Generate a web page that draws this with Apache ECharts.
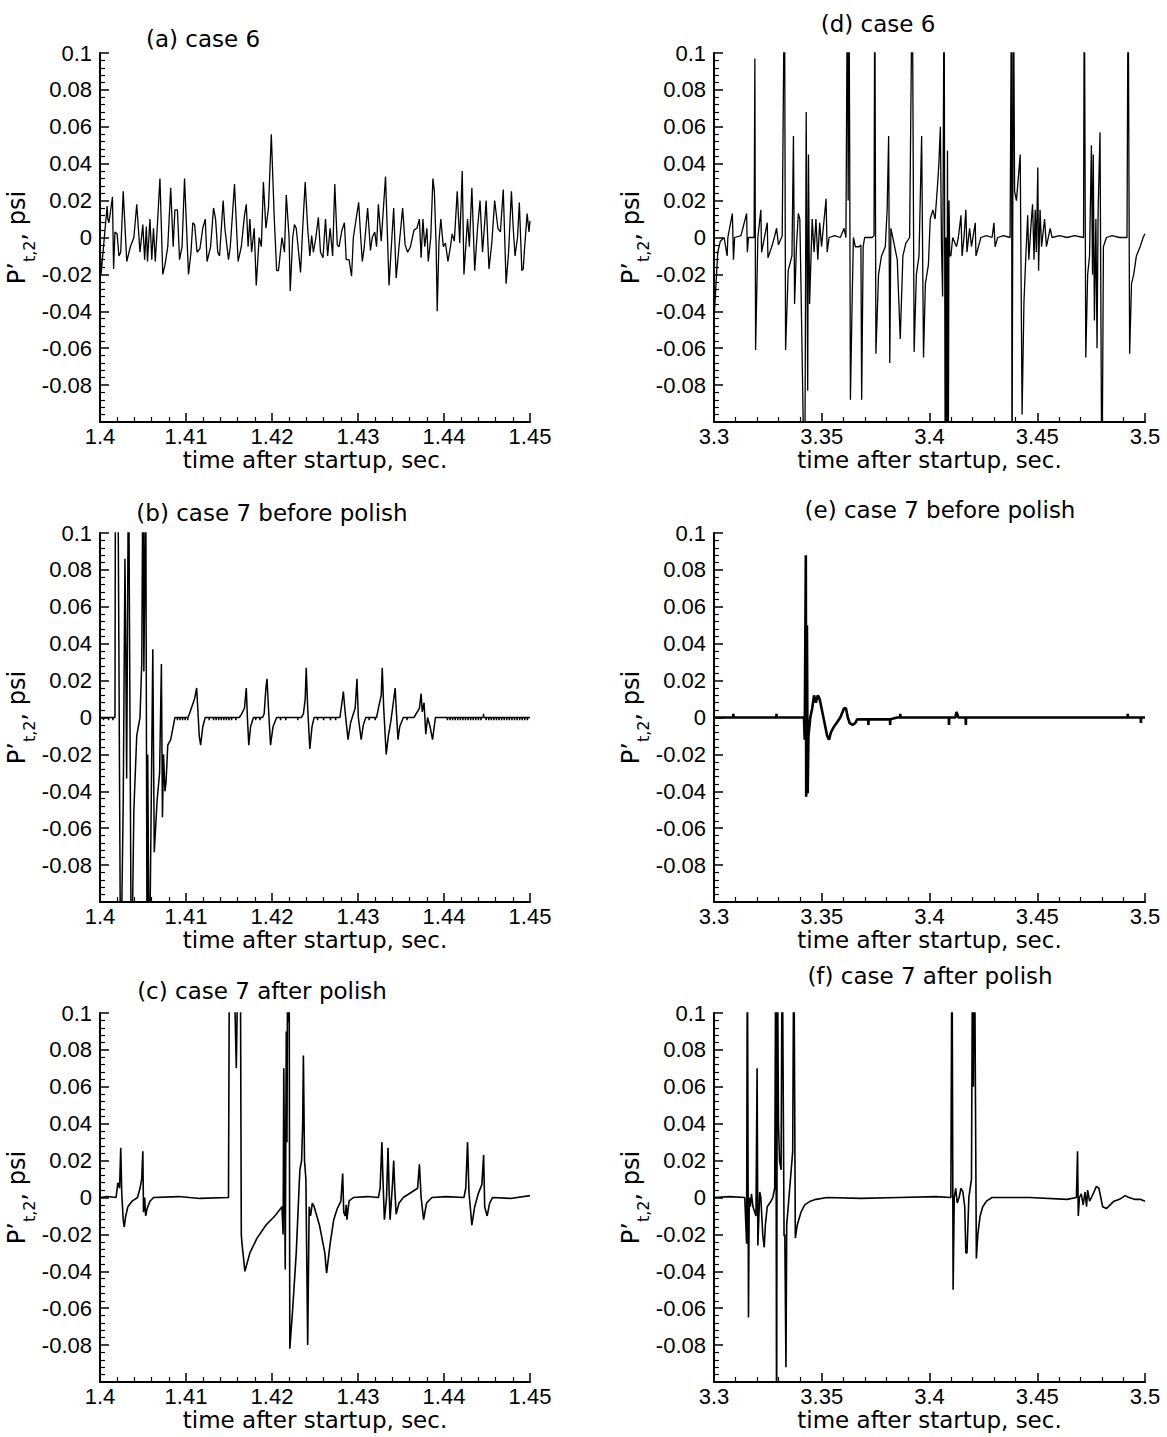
<!DOCTYPE html>
<html>
<head>
<meta charset="utf-8">
<script src="https://cdn.jsdelivr.net/npm/echarts@6/dist/echarts.min.js"></script>
<style>
html,body{margin:0;padding:0;background:#fff;}
#chart{width:1167px;height:1437px;}
</style>
</head>
<body>
<div id="chart"></div>
<script>
// ---- data: [time (s), P't,2 (psi)] ----
const panelTitles = ['(a) case 6', '(d) case 6', '(b) case 7 before polish', '(e) case 7 before polish', '(c) case 7 after polish', '(f) case 7 after polish'];
const xTitle = 'time after startup, sec.';
const leftRange = [1.4, 1.45, 0.01];
const rightRange = [3.3, 3.5, 0.05];
const yRange = [-0.1, 0.1, 0.02];

const caseA = [[1.40000,0.000],[1.40012,-0.020],[1.40083,0.017],[1.40091,0.010],[1.40104,0.008],[1.40145,0.022],[1.40158,-0.017],[1.40174,0.003],[1.40199,0.002],[1.40220,-0.010],[1.40241,-0.008],[1.40270,0.025],[1.40311,-0.013],[1.40353,-0.005],[1.40394,0.000],[1.40427,0.018],[1.40465,-0.008],[1.40498,0.007],[1.40519,-0.012],[1.40539,0.006],[1.40552,-0.013],[1.40581,0.010],[1.40602,-0.012],[1.40622,0.005],[1.40643,-0.013],[1.40664,0.004],[1.40697,0.032],[1.40730,-0.020],[1.40755,-0.015],[1.40788,-0.005],[1.40822,0.027],[1.40851,-0.005],[1.40871,0.015],[1.40900,0.015],[1.40925,-0.012],[1.40954,-0.005],[1.40983,0.032],[1.41029,-0.020],[1.41058,-0.008],[1.41079,0.008],[1.41100,0.007],[1.41129,-0.008],[1.41162,-0.006],[1.41195,0.005],[1.41224,0.010],[1.41245,-0.013],[1.41286,-0.005],[1.41320,0.016],[1.41344,0.010],[1.41369,-0.008],[1.41390,-0.010],[1.41432,0.020],[1.41452,0.005],[1.41494,-0.012],[1.41515,-0.005],[1.41564,0.029],[1.41606,-0.013],[1.41643,-0.005],[1.41680,0.012],[1.41701,0.018],[1.41722,-0.005],[1.41743,0.010],[1.41763,-0.008],[1.41793,0.005],[1.41817,-0.026],[1.41851,0.000],[1.41876,-0.005],[1.41900,0.030],[1.41929,0.005],[1.41959,0.016],[1.41992,0.056],[1.42025,0.012],[1.42054,-0.018],[1.42075,-0.018],[1.42116,0.000],[1.42145,-0.008],[1.42166,0.023],[1.42199,0.000],[1.42212,-0.029],[1.42241,0.000],[1.42261,0.007],[1.42282,0.005],[1.42303,-0.005],[1.42332,-0.019],[1.42357,0.005],[1.42386,0.030],[1.42415,0.005],[1.42440,-0.010],[1.42461,0.001],[1.42481,-0.008],[1.42510,0.000],[1.42539,0.011],[1.42564,-0.008],[1.42593,-0.011],[1.42622,0.010],[1.42647,-0.010],[1.42676,0.005],[1.42705,-0.010],[1.42730,0.029],[1.42759,-0.004],[1.42780,-0.005],[1.42813,0.004],[1.42842,0.008],[1.42863,-0.012],[1.42896,-0.012],[1.42925,-0.021],[1.42946,0.000],[1.42975,0.009],[1.43008,0.019],[1.43029,0.002],[1.43050,-0.013],[1.43071,-0.006],[1.43112,0.016],[1.43145,-0.007],[1.43166,0.000],[1.43195,0.003],[1.43216,-0.005],[1.43237,0.018],[1.43270,-0.002],[1.43320,0.033],[1.43361,-0.026],[1.43394,0.000],[1.43415,0.016],[1.43444,-0.022],[1.43477,-0.005],[1.43519,0.016],[1.43548,-0.004],[1.43577,-0.008],[1.43610,-0.005],[1.43651,0.004],[1.43685,0.005],[1.43714,0.010],[1.43734,-0.011],[1.43755,0.010],[1.43776,-0.005],[1.43801,0.005],[1.43817,-0.013],[1.43846,0.000],[1.43871,0.032],[1.43888,0.025],[1.43909,-0.005],[1.43921,-0.040],[1.43942,-0.002],[1.43963,0.010],[1.43992,-0.005],[1.44017,-0.003],[1.44046,-0.013],[1.44075,-0.005],[1.44095,0.002],[1.44120,-0.002],[1.44154,0.025],[1.44183,-0.003],[1.44212,0.036],[1.44232,-0.020],[1.44253,-0.005],[1.44274,0.010],[1.44295,-0.005],[1.44324,0.027],[1.44357,-0.018],[1.44390,0.005],[1.44419,0.020],[1.44448,-0.008],[1.44473,0.008],[1.44490,0.020],[1.44523,-0.017],[1.44556,-0.003],[1.44589,0.020],[1.44627,0.005],[1.44656,0.003],[1.44689,0.026],[1.44722,-0.025],[1.44751,-0.008],[1.44784,0.025],[1.44805,0.005],[1.44826,-0.010],[1.44855,0.000],[1.44876,0.019],[1.44905,-0.018],[1.44921,-0.017],[1.44938,-0.005],[1.44967,0.013],[1.44988,0.003],[1.45000,0.009]];

const caseD = [[3.30000,-0.045],[3.30070,-0.030],[3.30174,-0.008],[3.30296,-0.002],[3.30470,0.000],[3.30609,-0.010],[3.30643,0.000],[3.30852,0.013],[3.30904,-0.012],[3.30957,0.000],[3.31252,0.001],[3.31513,0.013],[3.31548,-0.008],[3.31600,0.000],[3.31861,0.000],[3.31896,0.097],[3.31930,-0.061],[3.32035,0.000],[3.32174,0.015],[3.32209,-0.008],[3.32470,0.008],[3.32504,-0.011],[3.32678,-0.005],[3.32800,0.000],[3.32904,0.005],[3.32991,-0.004],[3.33165,0.001],[3.33270,0.150],[3.33322,-0.061],[3.33443,-0.018],[3.33617,-0.010],[3.33687,0.055],[3.33739,-0.036],[3.33826,-0.005],[3.33913,0.013],[3.33983,0.010],[3.34035,-0.025],[3.34209,-0.150],[3.34278,0.068],[3.34348,-0.083],[3.34383,0.045],[3.34435,-0.036],[3.34557,0.010],[3.34643,-0.008],[3.34730,0.010],[3.34817,-0.012],[3.34904,0.008],[3.34991,-0.005],[3.35200,0.021],[3.35252,-0.008],[3.35339,0.000],[3.35600,0.001],[3.35861,0.000],[3.36035,0.005],[3.36122,0.000],[3.36191,0.150],[3.36226,0.020],[3.36261,0.150],[3.36296,0.048],[3.36330,-0.088],[3.36417,-0.030],[3.36470,0.000],[3.36557,-0.005],[3.36730,-0.005],[3.36817,-0.004],[3.36852,-0.088],[3.36922,-0.005],[3.36991,0.000],[3.37165,0.000],[3.37339,0.000],[3.37426,0.001],[3.37461,0.150],[3.37513,-0.063],[3.37635,-0.020],[3.37774,-0.010],[3.37948,-0.005],[3.38035,0.015],[3.38104,0.055],[3.38157,-0.068],[3.38209,0.005],[3.38383,-0.005],[3.38504,-0.012],[3.38643,-0.055],[3.38765,-0.010],[3.38904,-0.003],[3.39078,0.000],[3.39200,0.150],[3.39287,-0.062],[3.39391,-0.020],[3.39513,-0.010],[3.39635,0.055],[3.39722,-0.065],[3.39809,-0.025],[3.39948,-0.015],[3.40035,0.010],[3.40157,0.015],[3.40261,0.010],[3.40383,0.030],[3.40435,0.040],[3.40504,0.060],[3.40557,-0.005],[3.40609,-0.032],[3.40678,0.150],[3.40730,-0.150],[3.40765,0.000],[3.40800,-0.150],[3.40835,0.047],[3.40870,-0.150],[3.40904,0.020],[3.40939,-0.010],[3.40991,-0.010],[3.41078,0.000],[3.41252,-0.005],[3.41339,0.000],[3.41461,0.012],[3.41513,-0.010],[3.41600,0.000],[3.41687,0.015],[3.41739,-0.008],[3.41861,0.005],[3.41948,-0.005],[3.42122,0.008],[3.42157,-0.010],[3.42383,0.000],[3.42643,0.001],[3.42904,0.000],[3.42991,0.008],[3.43043,-0.005],[3.43165,0.000],[3.43426,0.001],[3.43739,0.000],[3.43809,0.150],[3.43826,-0.150],[3.43896,0.150],[3.43948,0.025],[3.44035,0.020],[3.44209,0.045],[3.44296,-0.096],[3.44383,-0.035],[3.44470,-0.010],[3.44557,0.012],[3.44609,-0.012],[3.44730,0.010],[3.44783,0.018],[3.44852,-0.012],[3.44904,0.015],[3.44957,-0.008],[3.45026,0.038],[3.45061,-0.018],[3.45130,0.015],[3.45200,-0.005],[3.45339,0.010],[3.45426,-0.005],[3.45600,0.005],[3.45687,0.000],[3.46035,0.001],[3.46383,0.000],[3.46730,0.001],[3.47148,0.000],[3.47183,0.150],[3.47252,-0.065],[3.47339,-0.020],[3.47426,-0.010],[3.47513,0.050],[3.47565,-0.020],[3.47600,0.045],[3.47652,-0.045],[3.47722,0.010],[3.47774,-0.060],[3.47826,0.015],[3.47913,0.057],[3.48000,-0.150],[3.48070,-0.005],[3.48209,0.000],[3.48470,0.001],[3.48817,0.000],[3.49165,0.000],[3.49217,0.150],[3.49287,-0.063],[3.49374,-0.025],[3.49478,-0.020],[3.49600,-0.010],[3.49774,-0.005],[3.49913,0.000],[3.50000,0.002]];

const caseB = [[1.40000,0.000],[1.40038,0],[1.40040,-0.0015],[1.40042,0],[1.40098,0],[1.40100,-0.0015],[1.40102,0],[1.40148,0],[1.40150,-0.0015],[1.40152,0],[1.40174,0.000],[1.40180,0.150],[1.40207,0.150],[1.40240,-0.150],[1.40270,-0.046],[1.40290,0.086],[1.40300,0.035],[1.40310,-0.033],[1.40332,0.150],[1.40365,-0.150],[1.40394,-0.050],[1.40427,-0.010],[1.40465,0.000],[1.40486,0.030],[1.40500,0.150],[1.40510,0.025],[1.40519,0.068],[1.40531,0.150],[1.40548,-0.150],[1.40555,-0.020],[1.40573,-0.150],[1.40614,0.037],[1.40631,-0.073],[1.40664,-0.045],[1.40693,-0.030],[1.40714,0.029],[1.40726,-0.054],[1.40739,-0.020],[1.40755,-0.040],[1.40768,-0.035],[1.40788,-0.015],[1.40822,-0.012],[1.40851,-0.005],[1.40871,0.000],[1.40898,0],[1.40900,-0.0015],[1.40902,0],[1.40928,0],[1.40930,-0.0015],[1.40932,0],[1.40958,0],[1.40960,-0.0015],[1.40962,0],[1.40988,0],[1.40990,-0.0015],[1.40992,0],[1.41018,0],[1.41020,-0.0015],[1.41022,0],[1.41040,0.002],[1.41099,0.010],[1.41124,0.016],[1.41137,0.005],[1.41154,-0.010],[1.41170,-0.015],[1.41195,-0.005],[1.41224,0.000],[1.41268,0],[1.41270,-0.0015],[1.41272,0],[1.41318,0],[1.41320,-0.0015],[1.41322,0],[1.41348,0],[1.41350,-0.0015],[1.41352,0],[1.41378,0],[1.41380,-0.0015],[1.41382,0],[1.41408,0],[1.41410,-0.0015],[1.41412,0],[1.41438,0],[1.41440,-0.0015],[1.41442,0],[1.41468,0],[1.41470,-0.0015],[1.41472,0],[1.41498,0],[1.41500,-0.0015],[1.41502,0],[1.41528,0],[1.41530,-0.0015],[1.41532,0],[1.41578,0],[1.41580,-0.0015],[1.41582,0],[1.41620,0],[1.41647,0.002],[1.41680,0.005],[1.41701,0.016],[1.41714,0.000],[1.41730,-0.015],[1.41751,-0.005],[1.41784,0.000],[1.41808,0],[1.41810,-0.0015],[1.41812,0],[1.41858,0],[1.41860,-0.0015],[1.41862,0],[1.41890,0],[1.41909,0.002],[1.41929,0.016],[1.41942,0.021],[1.41959,0.005],[1.41983,-0.015],[1.42012,-0.005],[1.42054,0.000],[1.42098,0],[1.42100,-0.0015],[1.42102,0],[1.42158,0],[1.42160,-0.0015],[1.42162,0],[1.42298,0],[1.42300,-0.0015],[1.42302,0],[1.42340,0],[1.42365,0.002],[1.42386,0.010],[1.42398,0.027],[1.42415,0.005],[1.42440,-0.017],[1.42465,-0.005],[1.42490,0.000],[1.42528,0],[1.42530,-0.0015],[1.42532,0],[1.42598,0],[1.42600,-0.0015],[1.42602,0],[1.42678,0],[1.42680,-0.0015],[1.42682,0],[1.42738,0],[1.42740,-0.0015],[1.42742,0],[1.42790,0],[1.42813,0.008],[1.42830,0.014],[1.42846,0.005],[1.42884,-0.012],[1.42913,-0.003],[1.42946,0.002],[1.42967,0.005],[1.42988,0.021],[1.43004,0.000],[1.43037,-0.012],[1.43062,-0.004],[1.43091,0.000],[1.43128,0],[1.43130,-0.0015],[1.43132,0],[1.43198,0],[1.43200,-0.0015],[1.43202,0],[1.43216,0.000],[1.43237,0.005],[1.43270,0.012],[1.43282,0.027],[1.43299,0.005],[1.43328,-0.020],[1.43353,-0.010],[1.43382,-0.002],[1.43402,0.005],[1.43432,0.016],[1.43444,0.005],[1.43465,-0.012],[1.43485,-0.005],[1.43527,0.000],[1.43568,0],[1.43570,-0.0015],[1.43572,0],[1.43650,0.000],[1.43714,0.005],[1.43734,0.013],[1.43747,0.003],[1.43768,0.008],[1.43788,-0.009],[1.43809,0.000],[1.43838,-0.005],[1.43867,-0.012],[1.43900,0.000],[1.44038,0],[1.44040,-0.0015],[1.44042,0],[1.44068,0],[1.44070,-0.0015],[1.44072,0],[1.44098,0],[1.44100,-0.0015],[1.44102,0],[1.44128,0],[1.44130,-0.0015],[1.44132,0],[1.44158,0],[1.44160,-0.0015],[1.44162,0],[1.44188,0],[1.44190,-0.0015],[1.44192,0],[1.44218,0],[1.44220,-0.0015],[1.44222,0],[1.44248,0],[1.44250,-0.0015],[1.44252,0],[1.44278,0],[1.44280,-0.0015],[1.44282,0],[1.44308,0],[1.44310,-0.0015],[1.44312,0],[1.44338,0],[1.44340,-0.0015],[1.44342,0],[1.44368,0],[1.44370,-0.0015],[1.44372,0],[1.44398,0],[1.44400,-0.0015],[1.44402,0],[1.44428,0],[1.44430,-0.0015],[1.44432,0],[1.44458,0],[1.44460,0.002],[1.44462,0],[1.44488,0],[1.44490,-0.0015],[1.44492,0],[1.44518,0],[1.44520,-0.0015],[1.44522,0],[1.44548,0],[1.44550,-0.0015],[1.44552,0],[1.44578,0],[1.44580,-0.0015],[1.44582,0],[1.44608,0],[1.44610,-0.0015],[1.44612,0],[1.44638,0],[1.44640,-0.0015],[1.44642,0],[1.44668,0],[1.44670,-0.0015],[1.44672,0],[1.44698,0],[1.44700,-0.0015],[1.44702,0],[1.44728,0],[1.44730,-0.0015],[1.44732,0],[1.44758,0],[1.44760,-0.0015],[1.44762,0],[1.44788,0],[1.44790,-0.0015],[1.44792,0],[1.44818,0],[1.44820,-0.0015],[1.44822,0],[1.44848,0],[1.44850,-0.0015],[1.44852,0],[1.44878,0],[1.44880,-0.0015],[1.44882,0],[1.44908,0],[1.44910,-0.0015],[1.44912,0],[1.44938,0],[1.44940,-0.0015],[1.44942,0],[1.44968,0],[1.44970,-0.0015],[1.44972,0],[1.45000,0.000]];

const caseE = [[3.30000,0.000],[3.30890,0],[3.30900,0.002],[3.30910,0],[3.32890,0],[3.32900,0.002],[3.32910,0],[3.34174,0.000],[3.34209,-0.012],[3.34226,0.020],[3.34261,0.088],[3.34278,-0.043],[3.34313,0.050],[3.34348,-0.041],[3.34383,-0.010],[3.34470,0.000],[3.34557,0.005],[3.34643,0.012],[3.34730,0.008],[3.34817,0.012],[3.34904,0.010],[3.34991,0.005],[3.35078,0.000],[3.35165,-0.005],[3.35252,-0.010],[3.35339,-0.012],[3.35426,-0.008],[3.35565,-0.005],[3.35687,-0.003],[3.35861,0.000],[3.36035,0.005],[3.36122,0.005],[3.36209,0.000],[3.36296,-0.003],[3.36435,-0.004],[3.36557,-0.003],[3.36643,-0.001],[3.37155,-0.001],[3.37165,-0.004],[3.37175,-0.001],[3.37513,-0.001],[3.38164,-0.001],[3.38174,-0.004],[3.38184,-0.001],[3.38500,0.000],[3.38633,0],[3.38643,0.002],[3.38653,0],[3.40894,0],[3.40904,-0.004],[3.40914,0],[3.41200,0.000],[3.41252,0.003],[3.41339,0.000],[3.41677,0],[3.41687,-0.004],[3.41697,0],[3.49190,0],[3.49200,0.002],[3.49210,0],[3.49800,0],[3.49810,-0.003],[3.49820,0],[3.50000,0.000]];

const caseC = [[1.40000,0.000],[1.40083,0.0005],[1.40187,0.000],[1.40207,0.008],[1.40228,0.005],[1.40241,0.027],[1.40253,0.002],[1.40270,-0.012],[1.40282,-0.016],[1.40299,-0.010],[1.40324,-0.005],[1.40373,-0.002],[1.40436,0.000],[1.40465,0.005],[1.40485,0.010],[1.40498,0.025],[1.40506,-0.008],[1.40519,0.000],[1.40531,-0.010],[1.40548,-0.006],[1.40581,-0.002],[1.40622,0.000],[1.40913,0.0005],[1.41162,-0.0005],[1.41494,0.000],[1.41506,0.150],[1.41556,0.130],[1.41585,0.070],[1.41610,0.150],[1.41631,0.150],[1.41643,-0.020],[1.41651,-0.025],[1.41685,-0.040],[1.41743,-0.030],[1.41826,-0.022],[1.41929,-0.015],[1.42033,-0.010],[1.42116,-0.005],[1.42129,-0.020],[1.42137,0.070],[1.42154,-0.039],[1.42166,0.090],[1.42174,0.030],[1.42183,0.150],[1.42191,0.095],[1.42199,0.150],[1.42207,-0.082],[1.42241,-0.060],[1.42282,-0.030],[1.42324,0.015],[1.42344,0.020],[1.42357,0.040],[1.42365,0.077],[1.42378,0.020],[1.42394,0.010],[1.42415,-0.080],[1.42432,-0.005],[1.42448,-0.010],[1.42469,-0.003],[1.42490,-0.005],[1.42552,-0.015],[1.42614,-0.030],[1.42635,-0.041],[1.42676,-0.025],[1.42718,-0.012],[1.42759,-0.006],[1.42801,-0.002],[1.42822,0.013],[1.42834,-0.008],[1.42851,-0.010],[1.42863,-0.004],[1.42871,-0.012],[1.42896,-0.002],[1.42946,0.000],[1.43112,0.0005],[1.43237,0.000],[1.43257,0.005],[1.43278,0.030],[1.43290,0.010],[1.43307,-0.012],[1.43332,0.000],[1.43349,0.027],[1.43361,0.005],[1.43373,-0.012],[1.43402,0.008],[1.43415,0.020],[1.43427,0.005],[1.43444,-0.009],[1.43477,-0.003],[1.43527,0.000],[1.43693,0.005],[1.43714,0.018],[1.43734,0.000],[1.43763,-0.012],[1.43797,-0.003],[1.43859,0.000],[1.44025,0.0005],[1.44232,0.000],[1.44253,0.005],[1.44274,0.030],[1.44290,0.003],[1.44324,-0.015],[1.44357,-0.005],[1.44398,0.002],[1.44440,0.007],[1.44461,0.023],[1.44473,-0.005],[1.44502,-0.010],[1.44531,-0.003],[1.44564,0.000],[1.44772,-0.0005],[1.45000,0.001]];

const caseF = [[3.30000,0.000],[3.30730,0.0005],[3.31426,0.000],[3.31513,-0.025],[3.31548,0.150],[3.31600,-0.065],[3.31635,0.000],[3.31687,-0.005],[3.31739,0.002],[3.31809,-0.005],[3.31948,-0.010],[3.32000,0.070],[3.32035,-0.026],[3.32122,0.003],[3.32174,0.000],[3.32261,-0.020],[3.32330,-0.027],[3.32383,-0.015],[3.32470,-0.005],[3.32643,-0.002],[3.32730,0.000],[3.32817,0.005],[3.32870,0.150],[3.32904,-0.150],[3.32939,0.150],[3.32991,0.040],[3.33043,0.020],[3.33113,0.015],[3.33165,0.150],[3.33252,-0.021],[3.33287,-0.020],[3.33339,-0.092],[3.33374,-0.015],[3.33513,0.005],[3.33652,0.025],[3.33704,0.150],[3.33774,-0.022],[3.33861,-0.015],[3.34035,-0.008],[3.34209,-0.004],[3.34470,-0.002],[3.34730,-0.001],[3.35252,0.000],[3.36817,-0.0005],[3.38557,0.000],[3.40296,0.0005],[3.40991,0.000],[3.41043,0.150],[3.41096,-0.050],[3.41148,0.000],[3.41217,0.005],[3.41287,-0.003],[3.41374,0.000],[3.41461,0.005],[3.41548,0.003],[3.41635,-0.005],[3.41687,-0.030],[3.41739,-0.030],[3.41826,0.000],[3.41948,0.010],[3.42000,0.150],[3.42035,0.060],[3.42087,0.150],[3.42174,-0.033],[3.42243,-0.020],[3.42348,-0.010],[3.42470,-0.005],[3.42643,-0.002],[3.42904,0.000],[3.44643,0.000],[3.46383,-0.001],[3.46817,0.000],[3.46870,0.025],[3.46904,-0.010],[3.46957,0.000],[3.47043,0.002],[3.47130,-0.004],[3.47217,0.003],[3.47287,-0.005],[3.47339,0.004],[3.47426,-0.002],[3.47513,0.000],[3.47635,0.003],[3.47739,0.006],[3.47861,0.005],[3.47948,0.000],[3.48035,-0.005],[3.48209,-0.006],[3.48383,-0.004],[3.48557,-0.002],[3.48817,-0.001],[3.49078,0.001],[3.49252,0.000],[3.49513,-0.001],[3.49774,-0.001],[3.50000,-0.002]];

// ---- layout / style ----
const panels = [
  {data: caseA, range: leftRange,  grid: {left: 100, top: 53,   width: 430, height: 369}, title: {x: 203, y: 39},  lw: 1.3},
  {data: caseD, range: rightRange, grid: {left: 714, top: 53,   width: 431, height: 369}, title: {x: 878, y: 24},  lw: 1.3},
  {data: caseB, range: leftRange,  grid: {left: 100, top: 533,  width: 430, height: 369}, title: {x: 272, y: 513}, lw: 1.5},
  {data: caseE, range: rightRange, grid: {left: 714, top: 533,  width: 431, height: 369}, title: {x: 940, y: 510}, lw: 2.6},
  {data: caseC, range: leftRange,  grid: {left: 100, top: 1013, width: 430, height: 369}, title: {x: 262, y: 991}, lw: 1.6},
  {data: caseF, range: rightRange, grid: {left: 714, top: 1013, width: 431, height: 369}, title: {x: 930, y: 976}, lw: 1.6}
];

const TICK_FONT = 'Liberation Sans';
const NAME_FONT = 'DejaVu Sans';
const fmt = v => { const r = Math.round(v * 100) / 100; return String(r); };

const chart = echarts.init(document.getElementById('chart'), null, {renderer: 'svg'});

const option = {
  animation: false,
  backgroundColor: '#ffffff',
  grid: panels.map(p => Object.assign({containLabel: false}, p.grid)),
  xAxis: panels.map((p, i) => ({
    type: 'value', gridIndex: i,
    min: p.range[0], max: p.range[1], interval: p.range[2],
    axisLine: {onZero: false, lineStyle: {color: '#000', width: 2}},
    axisTick: {inside: true, length: 9, lineStyle: {color: '#000', width: 1.5}},
    minorTick: {show: true, splitNumber: 5, length: 5, lineStyle: {color: '#000', width: 1.2}},
    splitLine: {show: false}, minorSplitLine: {show: false},
    axisLabel: {color: '#000', fontFamily: TICK_FONT, fontSize: 22, margin: 3, formatter: fmt},
    name: xTitle, nameLocation: 'middle', nameGap: 26,
    nameTextStyle: {color: '#000', fontFamily: NAME_FONT, fontSize: 23}
  })),
  yAxis: panels.map((p, i) => ({
    type: 'value', gridIndex: i,
    min: yRange[0], max: yRange[1], interval: yRange[2],
    axisLine: {onZero: false, lineStyle: {color: '#000', width: 2}},
    axisTick: {inside: true, length: 9, lineStyle: {color: '#000', width: 1.5}},
    minorTick: {show: true, splitNumber: 5, length: 5, lineStyle: {color: '#000', width: 1.2}},
    splitLine: {show: false}, minorSplitLine: {show: false},
    axisLabel: {color: '#000', fontFamily: TICK_FONT, fontSize: 22, margin: 8, showMinLabel: false,
      formatter: v => { const r = Math.round(v * 100) / 100; return Math.abs(r - yRange[0]) < 1e-9 ? '' : String(r); }},
    name: '{m|P’}{s|t,2}{m|, psi}', nameLocation: 'middle', nameRotate: 90, nameGap: 58,
    nameTextStyle: {color: '#000', fontFamily: NAME_FONT, fontSize: 24,
      rich: {
        m: {color: '#000', fontFamily: NAME_FONT, fontSize: 24, lineHeight: 42},
        s: {color: '#000', fontFamily: NAME_FONT, fontSize: 16, lineHeight: 16, verticalAlign: 'bottom'}
      }}
  })),
  series: panels.map((p, i) => ({
    type: 'line', xAxisIndex: i, yAxisIndex: i, data: p.data,
    showSymbol: false, symbol: 'none', clip: true, sampling: false,
    lineStyle: {color: '#000', width: p.lw}, silent: true
  })),
  graphic: panels.map((p, i) => ({
    type: 'text', x: p.title.x, y: p.title.y, silent: true,
    style: {text: panelTitles[i], fill: '#000', fontFamily: NAME_FONT, fontSize: 23,
      align: 'center', verticalAlign: 'middle', textAlign: 'center', textVerticalAlign: 'middle'}
  }))
};
chart.setOption(option);
</script>
</body>
</html>
